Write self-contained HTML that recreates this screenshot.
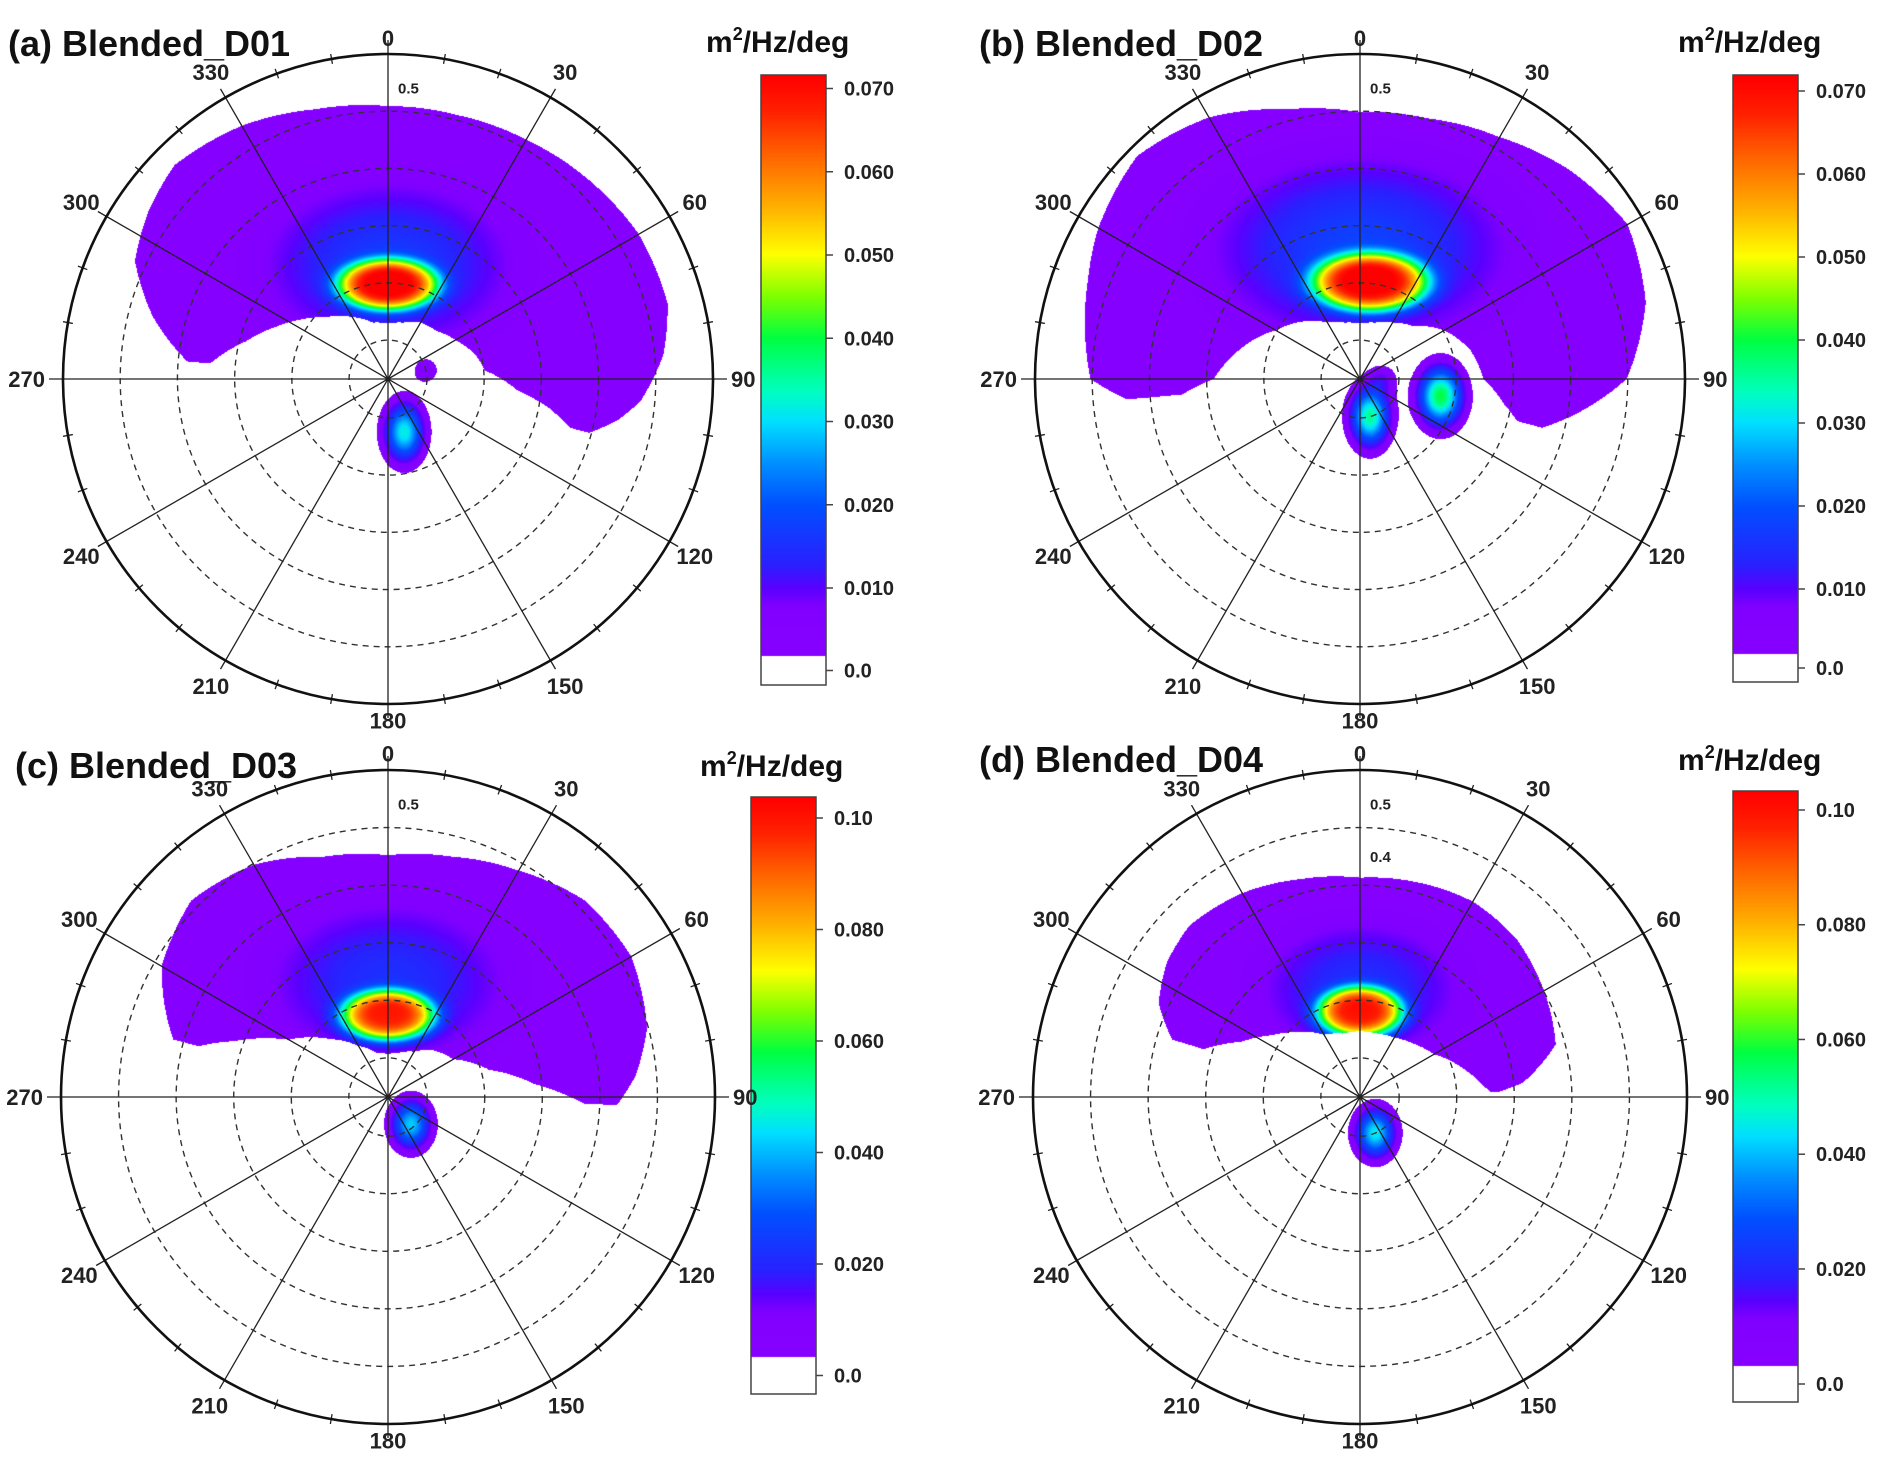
<!DOCTYPE html>
<html><head><meta charset="utf-8">
<style>
html,body{margin:0;padding:0;background:#fff;}
#root{position:relative;width:1899px;height:1460px;overflow:hidden;font-family:"Liberation Sans",Arial,sans-serif;}
canvas{position:absolute;}
svg{position:absolute;left:0;top:0;}
</style></head>
<body>
<div id="root">
<canvas id="cv-a"></canvas>
<canvas id="cv-b"></canvas>
<canvas id="cv-c"></canvas>
<canvas id="cv-d"></canvas>
<canvas id="cb-a"></canvas>
<canvas id="cb-b"></canvas>
<canvas id="cb-c"></canvas>
<canvas id="cb-d"></canvas>
<svg id="ov" width="1899" height="1460"></svg>
</div>
<script>
// ---- data ----
// envelope: direction (deg), inner frequency (Hz), outer frequency (Hz)
const envDirA=[275,285,295,305,315,330,345,0,15,30,45,60,75,85,95,100,105];
const envInA=[.244,.188,.148,.114,.085,.057,.034,.029,.034,.046,.051,.068,.091,.102,.159,.216,.261];
const envOutA=[.284,.358,.420,.443,.460,.443,.420,.409,.409,.415,.426,.438,.438,.415,.375,.341,.296];
const envDirB=[265,270,280,290,300,315,330,345,0,15,30,45,60,75,90,100,105];
const envInB=[.244,.188,.159,.131,.102,.074,.046,.034,.029,.034,.046,.063,.102,.131,.148,.188,.216];
const envOutB=[.341,.403,.420,.438,.460,.483,.460,.420,.398,.403,.420,.449,.472,.449,.398,.307,.261];
const envDirC=[285,290,300,315,330,345,0,15,30,45,60,75,85,92];
const envInC=[.273,.216,.131,.074,.034,.012,.006,.012,.023,.046,.063,.114,.188,.273];
const envOutC=[.318,.341,.386,.415,.398,.364,.352,.364,.386,.415,.420,.398,.364,.330];
const envDirD=[287,295,305,315,330,345,0,15,30,45,60,75,85,88];
const envInD=[.216,.159,.119,.091,.057,.046,.046,.046,.051,.063,.080,.119,.148,.159];
const envOutD=[.273,.318,.341,.352,.341,.324,.313,.318,.324,.318,.301,.284,.216,.171];
// peaks (inside envelope): direction, frequency, amplitude (m2/Hz/deg)
const peakDirA=[0,0], peakFreqA=[.097,.131], peakAmpA=[.058,.017];
const peakDirB=[6,0], peakFreqB=[.102,.159], peakAmpB=[.058,.018];
const peakDirC=[0,0], peakFreqC=[.074,.131], peakAmpC=[.080,.022];
const peakDirD=[0,0], peakFreqD=[.080,.119], peakAmpD=[.080,.022];
// secondary lobes
const lobeDirA=[163,77], lobeFreqA=[.029,0], lobeAmpA=[.032,.0065];
const lobeDirB=[102,165,90], lobeFreqB=[.076,.0,-.028], lobeAmpB=[.040,.036,.007];
const lobeDirC=[140], lobeFreqC=[-.006], lobeAmpC=[.042];
const lobeDirD=[157], lobeFreqD=[0], lobeAmpD=[.045];
// colorbar ticks
const ticksAB=[0.070,0.060,0.050,0.040,0.030,0.020,0.010];
const labelsAB=["0.070","0.060","0.050","0.040","0.030","0.020","0.010"];
const ticksCD=[0.10,0.080,0.060,0.040,0.020];
const labelsCD=["0.10","0.080","0.060","0.040","0.020"];
const angleLabels=[0,30,60,90,120,150,180,210,240,270,300,330];

// ---- styling / layout ----
const cmap=[[0,[138,0,255]],[0.11,[128,0,255]],[0.14,[90,0,255]],[0.18,[42,32,255]],[0.28,[0,80,255]],[0.35,[0,144,255]],[0.42,[0,224,255]],[0.47,[0,255,192]],[0.56,[0,255,64]],[0.63,[128,255,0]],[0.70,[255,255,0]],[0.78,[255,176,0]],[0.87,[255,96,0]],[0.94,[255,32,0]],[1,[255,0,0]]];
function col(t){t=Math.max(0,Math.min(1,t));for(let i=1;i<cmap.length;i++){if(t<=cmap[i][0]){const a=cmap[i-1],b=cmap[i];const u=(t-a[0])/(b[0]-a[0]);return [0,1,2].map(k=>Math.round(a[1][k]+(b[1][k]-a[1][k])*u));}}return cmap[cmap.length-1][1];}
const fMin=-0.068,fMax=0.5;
function rOf(f){return (f-fMin)/(fMax-fMin);}
const panels=[
 {id:'a',cx:388,cy:379,R:325,vmax:.0716,env:[envDirA,envInA,envOutA],pk:[peakDirA,peakFreqA,peakAmpA],pkS:[[.13,.066,4],[.30,.20,2]],lb:[lobeDirA,lobeFreqA,lobeAmpA],lbS:[[.04,.06],[.03,.03]],
  title:'(a) Blended_D01',tx:8,ty:56,ux:706,uy:52,cb:{x:761,y0:75,y1:685,yw:656,w:65,f:v=>88.5+(0.07-v)*8325},ticks:ticksAB,labels:labelsAB,rl:[[0.5,'0.5']]},
 {id:'b',cx:1360,cy:379,R:325,vmax:.0716,env:[envDirB,envInB,envOutB],pk:[peakDirB,peakFreqB,peakAmpB],pkS:[[.15,.075,4],[.35,.22,2]],lb:[lobeDirB,lobeFreqB,lobeAmpB],lbS:[[.045,.06],[.04,.06],[.03,.03]],
  title:'(b) Blended_D02',tx:979,ty:56,ux:1678,uy:52,cb:{x:1733,y0:75,y1:682,yw:654,w:65,f:v=>91+(0.07-v)*8300},ticks:ticksAB,labels:labelsAB,rl:[[0.5,'0.5']]},
 {id:'c',cx:388,cy:1097,R:327,vmax:.1038,env:[envDirC,envInC,envOutC],pk:[peakDirC,peakFreqC,peakAmpC],pkS:[[.12,.065,4],[.30,.20,2]],lb:[lobeDirC,lobeFreqC,lobeAmpC],lbS:[[.04,.05]],
  title:'(c) Blended_D03',tx:15,ty:778,ux:700,uy:776,cb:{x:751,y0:797,y1:1394,yw:1357,w:65,f:v=>818+(0.1-v)*5575},ticks:ticksCD,labels:labelsCD,rl:[[0.5,'0.5']]},
 {id:'d',cx:1360,cy:1097,R:327,vmax:.1033,env:[envDirD,envInD,envOutD],pk:[peakDirD,peakFreqD,peakAmpD],pkS:[[.11,.065,4],[.25,.17,2]],lb:[lobeDirD,lobeFreqD,lobeAmpD],lbS:[[.04,.05]],
  title:'(d) Blended_D04',tx:979,ty:772,ux:1678,uy:770,cb:{x:1733,y0:791,y1:1402,yw:1366,w:65,f:v=>810+(0.1-v)*5737},ticks:ticksCD,labels:labelsCD,rl:[[0.5,'0.5'],[0.4,'0.4']]}
];
function unwrap(d){return d>180?d-360:d;}
function envAt(env,th){const [ds,ins,outs]=env;const dd=ds.map(unwrap);
 if(th<dd[0]||th>dd[dd.length-1])return null;
 for(let i=1;i<dd.length;i++){if(th<=dd[i]){const u=(th-dd[i-1])/(dd[i]-dd[i-1]);return [ins[i-1]+(ins[i]-ins[i-1])*u,outs[i-1]+(outs[i]-outs[i-1])*u];}}return null;}
function comps(arr,sizes){const [ds,fs,as]=arr;return ds.map((d,i)=>{const r=rOf(fs[i]);const a=d*Math.PI/180;const s=sizes[i];return {x:r*Math.sin(a),y:r*Math.cos(a),amp:as[i],sx:s[0],sy:s[1],p:s[2]||2};});}
function evalC(cs,x,y){let v=0;for(const c of cs){const q=((x-c.x)/c.sx)**2+((y-c.y)/c.sy)**2;v+=c.amp*Math.exp(-0.5*Math.pow(q,c.p/2));}return v;}
const NS='http://www.w3.org/2000/svg';const ov=document.getElementById('ov');
function mk(tag,attrs,parent){const e=document.createElementNS(NS,tag);for(const k in attrs)e.setAttribute(k,attrs[k]);(parent||ov).appendChild(e);return e;}
for(const P of panels){
 const cv=document.getElementById('cv-'+P.id);const S=2*P.R;cv.width=S;cv.height=S;cv.style.left=(P.cx-P.R)+'px';cv.style.top=(P.cy-P.R)+'px';
 const ctx=cv.getContext('2d');const img=ctx.createImageData(S,S);const D=img.data;
 const pk=comps(P.pk,P.pkS),lb=comps(P.lb,P.lbS);
 for(let j=0;j<S;j++)for(let i=0;i<S;i++){
  const x=(i+0.5-P.R)/P.R,y=(P.R-j-0.5)/P.R;const r=Math.hypot(x,y);const k=(j*S+i)*4;
  if(r>1){D[k+3]=0;continue;}
  const th=Math.atan2(x,y)*180/Math.PI;const f=r*(fMax-fMin)+fMin;
  const e=envAt(P.env,th);let v=evalC(lb,x,y);let show=v>0.0035*P.vmax/0.0716;
  if(e&&f>=e[0]&&f<=e[1]){v=Math.max(v+evalC(pk,x,y),0.0042*P.vmax/0.0716);show=true;}
  if(show){const c=col(v/P.vmax);D[k]=c[0];D[k+1]=c[1];D[k+2]=c[2];D[k+3]=255;}else{D[k+3]=0;}
 }
 ctx.putImageData(img,0,0);
 const cb=document.getElementById('cb-'+P.id);const H=P.cb.y1-P.cb.y0;cb.width=P.cb.w;cb.height=H;cb.style.left=P.cb.x+'px';cb.style.top=P.cb.y0+'px';
 const bc=cb.getContext('2d');
 for(let yy=0;yy<H;yy++){const Y=P.cb.y0+yy;if(Y>=P.cb.yw){bc.fillStyle='#fff';}else{
   let lo=0,hi=0.2;for(let it=0;it<40;it++){const m=(lo+hi)/2;if(P.cb.f(m)>Y)lo=m;else hi=m;}
   const c=col(lo/P.vmax);bc.fillStyle='rgb('+c.join(',')+')';}
  bc.fillRect(0,yy,P.cb.w,1);}
 const g=mk('g',{});
 const bb=mk('rect',{x:P.cb.x,y:P.cb.y0,width:P.cb.w,height:H,fill:'none',stroke:'#444','stroke-width':1.5},g);
 
 P.ticks.forEach((v,i)=>{const Y=P.cb.f(v);
  const tl=mk('line',{x1:P.cb.x+P.cb.w,x2:P.cb.x+P.cb.w+7,y1:Y,y2:Y,stroke:'#444','stroke-width':1.5},g);
  
  const t=mk('text',{x:P.cb.x+P.cb.w+18,y:Y+7,'font-size':20,'font-weight':'bold',fill:'#222'},g);t.textContent=P.labels[i];
  });
 const zy=(P.cb.yw+P.cb.y1)/2;
 mk('line',{x1:P.cb.x+P.cb.w,x2:P.cb.x+P.cb.w+7,y1:zy,y2:zy,stroke:'#444','stroke-width':1.5},g);
 const z=mk('text',{x:P.cb.x+P.cb.w+18,y:zy+7,'font-size':20,'font-weight':'bold',fill:'#222'},g);z.textContent='0.0';
 
 for(let f=0;f<0.45;f+=0.1){const c=mk('circle',{cx:P.cx,cy:P.cy,r:rOf(f)*P.R,fill:'none',stroke:'#333','stroke-width':1.4,'stroke-dasharray':'6 5'},g);
  }
 for(const a of angleLabels){const rad=a*Math.PI/180;const ext=(a%90===0)?14:10;
  const l=mk('line',{x1:P.cx,y1:P.cy,x2:P.cx+(P.R+ext)*Math.sin(rad),y2:P.cy-(P.R+ext)*Math.cos(rad),stroke:'#222','stroke-width':1.3},g);
  
  let t;
  if(a===90){t=mk('text',{x:P.cx+P.R+18,y:P.cy+8,'font-size':22,'font-weight':'bold','text-anchor':'start',fill:'#222'},g);}
  else if(a===270){t=mk('text',{x:P.cx-P.R-18,y:P.cy+8,'font-size':22,'font-weight':'bold','text-anchor':'end',fill:'#222'},g);}
  else{const lr=P.R*((a===0||a===180)?1.05:1.09);t=mk('text',{x:P.cx+lr*Math.sin(rad),y:P.cy-lr*Math.cos(rad)+8,'font-size':22,'font-weight':'bold','text-anchor':'middle',fill:'#222'},g);}
  t.textContent=a;
  }
 for(let a=10;a<360;a+=10){if(a%30===0)continue;const rad=a*Math.PI/180;
  mk('line',{x1:P.cx+(P.R-5)*Math.sin(rad),y1:P.cy-(P.R-5)*Math.cos(rad),x2:P.cx+(P.R+5)*Math.sin(rad),y2:P.cy-(P.R+5)*Math.cos(rad),stroke:'#222','stroke-width':1.3},g);}
 const oc=mk('circle',{cx:P.cx,cy:P.cy,r:P.R,fill:'none',stroke:'#111','stroke-width':2.6},g);
 
 for(const [f,s] of P.rl){const t=mk('text',{x:P.cx+10,y:P.cy-rOf(f)*P.R*0.91+10,'font-size':15,'font-weight':'bold',fill:'#222'},g);t.textContent=s;
  }
 const tt=mk('text',{x:P.tx,y:P.ty,'font-size':36,'font-weight':'bold',fill:'#111'},g);tt.textContent=P.title;
 
 const ut=mk('text',{x:P.ux,y:P.uy,'font-size':30,'font-weight':'bold',fill:'#111'},g);
 
 ut.appendChild(document.createTextNode('m'));const sp=mk('tspan',{dy:-12,'font-size':18},ut);sp.textContent='2';
 const sp2=mk('tspan',{dy:12},ut);sp2.textContent='/Hz/deg';
}
</script>
</body></html>
